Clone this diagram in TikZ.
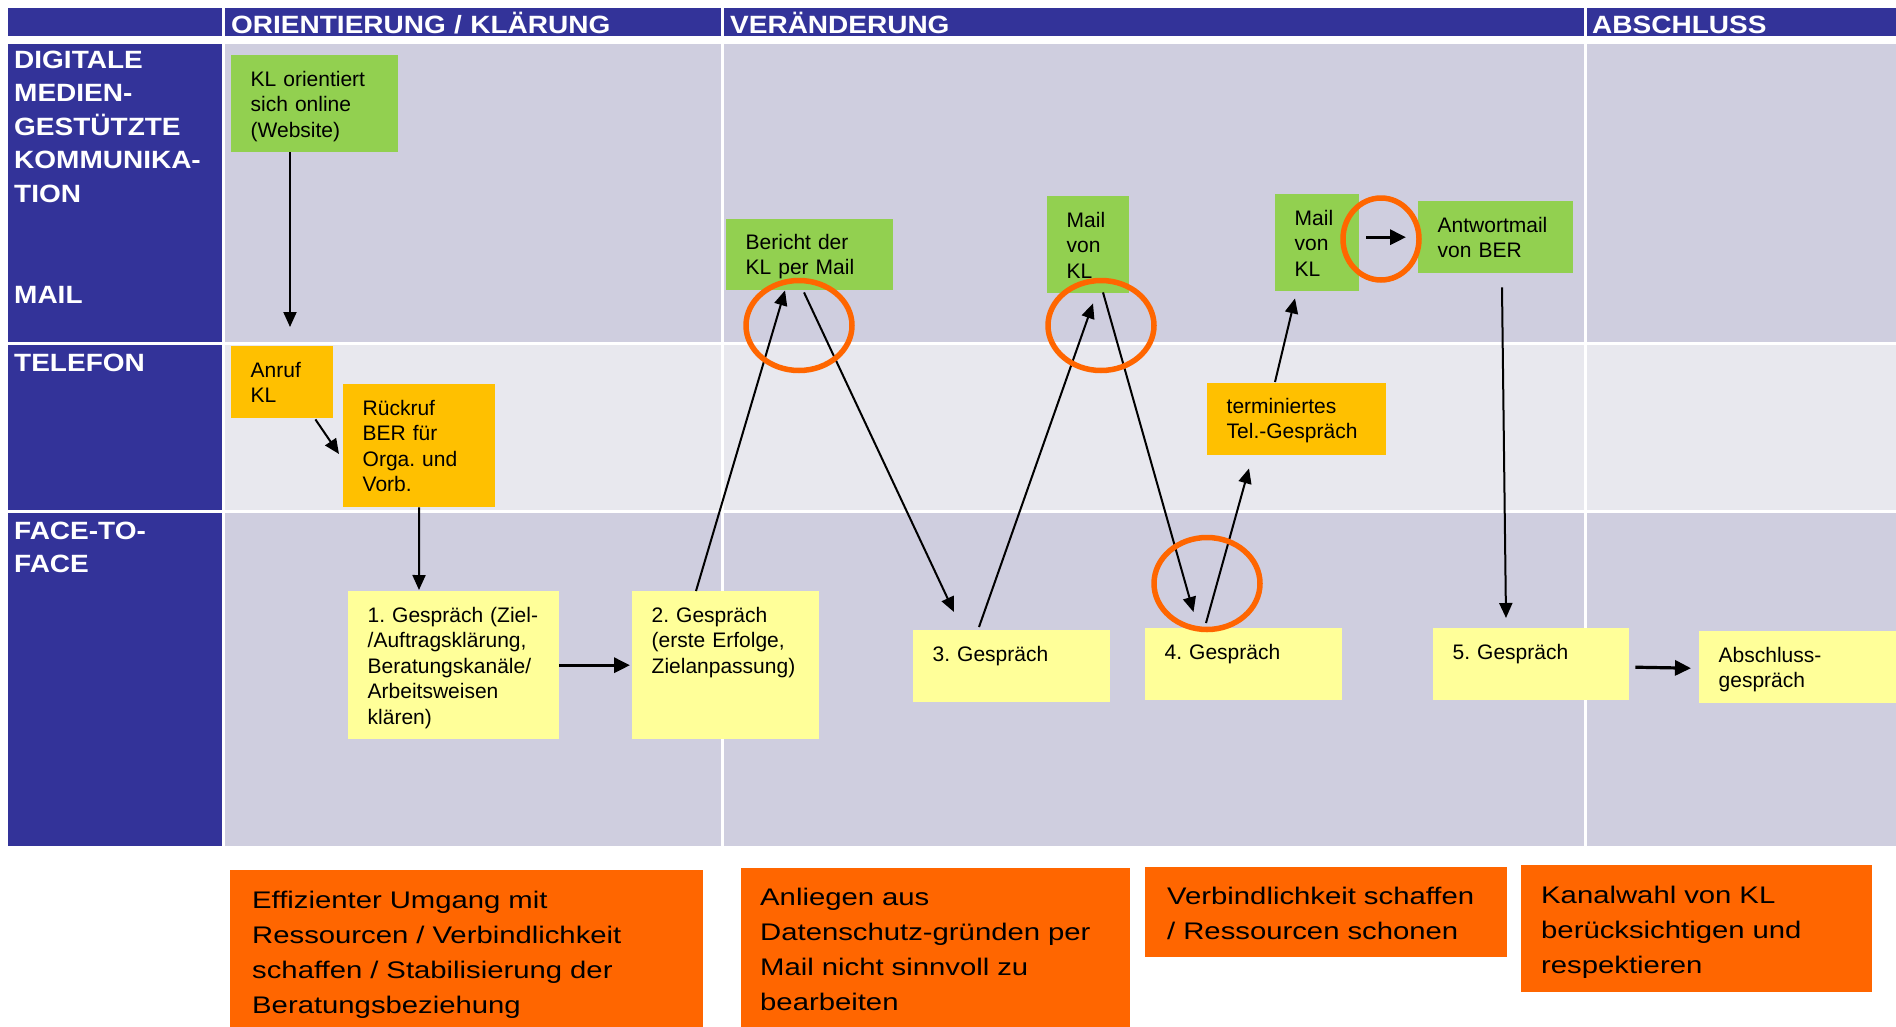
\documentclass[tikz,border=0pt]{standalone}
\usepackage{fontspec}
\setmainfont{Liberation Sans}
\newfontfamily\lblfont[FakeStretch=1.12]{Liberation Sans}
\newfontfamily\botfont[FakeStretch=1.22]{Liberation Sans}
\usetikzlibrary{arrows.meta}
\definecolor{navy}{RGB}{51,51,153}
\definecolor{lav}{RGB}{207,206,223}
\definecolor{lavlight}{RGB}{232,232,238}
\definecolor{mygreen}{RGB}{146,208,80}
\definecolor{amber}{RGB}{255,192,0}
\definecolor{paleyellow}{RGB}{255,255,153}
\definecolor{orangeA}{RGB}{255,102,0}
\newcommand{\padL}{\leftskip=19.5pt\relax}
\newcommand{\padB}[1]{\leftskip=#1pt\relax}
\frenchspacing
\begin{document}
\begin{tikzpicture}[x=1pt,y=-1pt,
  lbl/.style={anchor=base west, inner sep=0pt, text=white, align=left, text width=600pt,
    font=\frenchspacing\lblfont\bfseries\fontsize{25}{33.5}\selectfont},
  box/.style={anchor=north west, inner sep=0pt, align=left, text height=31pt,
    font=\frenchspacing\fontsize{21}{25.5}\selectfont},
  bbox/.style={anchor=north west, inner sep=0pt, align=left, fill=orangeA,
    font=\frenchspacing\botfont\fontsize{24}{35}\selectfont},
  thinarrow/.style={draw, line width=2pt, -{Triangle[length=15pt,width=13pt]}},
  thickarrow/.style={draw, line width=3.2pt, -{Triangle[length=16pt,width=15pt]}},
  ring/.style={draw=orangeA, line width=5.5pt}]
\useasboundingbox (0,0) rectangle (1896,1026);
\fill[white] (0,0) rectangle (1896,1026);
% header band
\fill[navy] (8,8) rectangle (222,36);
\fill[navy] (225,8) rectangle (721,36);
\fill[navy] (724,8) rectangle (1584,36);
\fill[navy] (1587,8) rectangle (1896,36);
% left column
\fill[navy] (8,44) rectangle (222,342);
\fill[navy] (8,345) rectangle (222,510);
\fill[navy] (8,513) rectangle (222,846);
% rows
\fill[lav] (225,44) rectangle (721,342);
\fill[lav] (724,44) rectangle (1584,342);
\fill[lav] (1587,44) rectangle (1896,342);
\fill[lavlight] (225,345) rectangle (721,510);
\fill[lavlight] (724,345) rectangle (1584,510);
\fill[lavlight] (1587,345) rectangle (1896,510);
\fill[lav] (225,513) rectangle (721,846);
\fill[lav] (724,513) rectangle (1584,846);
\fill[lav] (1587,513) rectangle (1896,846);
% header texts
\node[lbl] (h1) at (231,33) {ORIENTIERUNG / KLÄRUNG};
\node[lbl] (h2) at (730,33) {VERÄNDERUNG};
\node[lbl] (h3) at (1592,33) {ABSCHLUSS};
% row labels
\node[lbl] (r1) at (14,68) {DIGITALE\\MEDIEN-\\GESTÜTZTE\\KOMMUNIKA-\\TION};
\node[lbl] (r1b) at (14,303) {MAIL};
\node[lbl] (r2) at (14,371) {TELEFON};
\node[lbl] (r3) at (14,539) {FACE-TO-\\FACE};
% green boxes
\node[box, fill=mygreen, text width=167pt, text depth=66pt] (kl) at (231,55) {\padL KL orientiert\\sich online\\(Website)\par};
\node[box, fill=mygreen, text width=167pt, text depth=41pt, text height=30pt] (bericht) at (726,219) {\padL Bericht der\\KL per Mail\par};
\node[box, fill=mygreen, text width=82pt, text depth=66pt] (mail1) at (1047,196) {\padL Mail\\von\\KL\par};
\node[box, fill=mygreen, text width=84pt, text depth=66pt] (mail2) at (1275,194) {\padL Mail\\von\\KL\par};
\node[box, fill=mygreen, text width=155pt, text depth=41pt] (antwort) at (1418,201) {\padL Antwortmail\\von BER\par};
% amber boxes
\node[box, fill=amber, text width=102pt, text depth=41pt] (anruf) at (231,346) {\padL Anruf\\KL\par};
\node[box, fill=amber, text width=152pt, text depth=92pt] (rueck) at (343,384) {\padL Rückruf\\BER für\\Orga. und\\Vorb.\par};
\node[box, fill=amber, text width=179pt, text depth=42pt, text height=30pt] (term) at (1207,383) {\padL terminiertes\\Tel.-Gespräch\par};
% yellow boxes
\node[box, fill=paleyellow, text width=211pt, text depth=117pt] (g1) at (348,591) {\padL 1. Gespräch (Ziel-\\/Auftragsklärung,\\Beratungskanäle/\\Arbeitsweisen\\klären)\par};
\node[box, fill=paleyellow, text width=187pt, text depth=117pt] (g2) at (632,591) {\padL 2. Gespräch\\(erste Erfolge,\\Zielanpassung)\par};
\node[box, fill=paleyellow, text width=197pt, text depth=41pt] (g3) at (913,630) {\padL 3. Gespräch\par};
\node[box, fill=paleyellow, text width=197pt, text depth=41pt] (g4) at (1145,628) {\padL 4. Gespräch\par};
\node[box, fill=paleyellow, text width=196pt, text depth=41pt] (g5) at (1433,628) {\padL 5. Gespräch\par};
\node[box, fill=paleyellow, text width=220pt, text depth=41pt] (absch) at (1699,631) {\padL Abschluss-\\gespräch\par};
% bottom orange boxes
\node[bbox, text width=473pt, text height=38pt, text depth=132pt] (o1) at (230,870) {\padB{22}Effizienter Umgang mit\\Ressourcen / Verbindlichkeit\\schaffen / Stabilisierung der\\Beratungsbeziehung\par};
\node[bbox, text width=389pt, text height=37pt, text depth=133pt] (o2) at (741,868) {\padB{19}Anliegen aus\\Datenschutz-gründen per\\Mail nicht sinnvoll zu\\bearbeiten\par};
\node[bbox, text width=362pt, text height=37pt, text depth=53pt] (o3) at (1145,867) {\padB{22}Verbindlichkeit schaffen\\/ Ressourcen schonen\par};
\node[bbox, text width=351pt, text height=38pt, text depth=89pt] (o4) at (1521,865) {\padB{20}Kanalwahl von KL\\berücksichtigen und\\respektieren\par};
% connectors
\coordinate (c1) at (290,327);
\draw[thinarrow] ([shift={(59,0)}]kl.south west) -- (c1);
\draw[thinarrow] ([shift={(-18,1)}]anruf.south east) -- ([shift={(-4,70)}]rueck.north west);
\draw[thinarrow] (rueck.south) -- ([shift={(71,-1)}]g1.north west);
\draw[thickarrow, shorten >=2pt] (g1.east) -- (g2.west);
\draw[thinarrow] ([shift={(64,0)}]g2.north west) -- ([shift={(59,0)}]bericht.south west);
\draw[thinarrow] ([shift={(78,2)}]bericht.south west) -- ([shift={(41,-18)}]g3.north west);
\draw[thinarrow] ([shift={(66,-3)}]g3.north west) -- ([shift={(46,10)}]mail1.south west);
\draw[thinarrow] ([shift={(56,-1)}]mail1.south west) -- ([shift={(48.5,-16)}]g4.north west);
\draw[thinarrow] ([shift={(61,-5)}]g4.north west) -- ([shift={(42,13)}]term.south west);
\draw[thinarrow] ([shift={(68,-1)}]term.north west) -- ([shift={(20,7)}]mail2.south west);
\draw[thickarrow] ([shift={(7,-5.5)}]mail2.east) -- ([shift={(-12,0)}]antwort.west);
\draw[thinarrow] ([shift={(84,14)}]antwort.south west) -- ([shift={(73,-10)}]g5.north west);
\draw[thickarrow] ([shift={(6,3)}]g5.east) -- ([shift={(-8,1)}]absch.west);
% orange rings
\draw[ring] (799,325.5) ellipse [x radius=53, y radius=45];
\draw[ring] (1101,325.5) ellipse [x radius=53, y radius=45];
\draw[ring] (1207,583.5) ellipse [x radius=53, y radius=46];
\draw[ring] (1381,239) ellipse [x radius=38, y radius=41];
\end{tikzpicture}
\end{document}
